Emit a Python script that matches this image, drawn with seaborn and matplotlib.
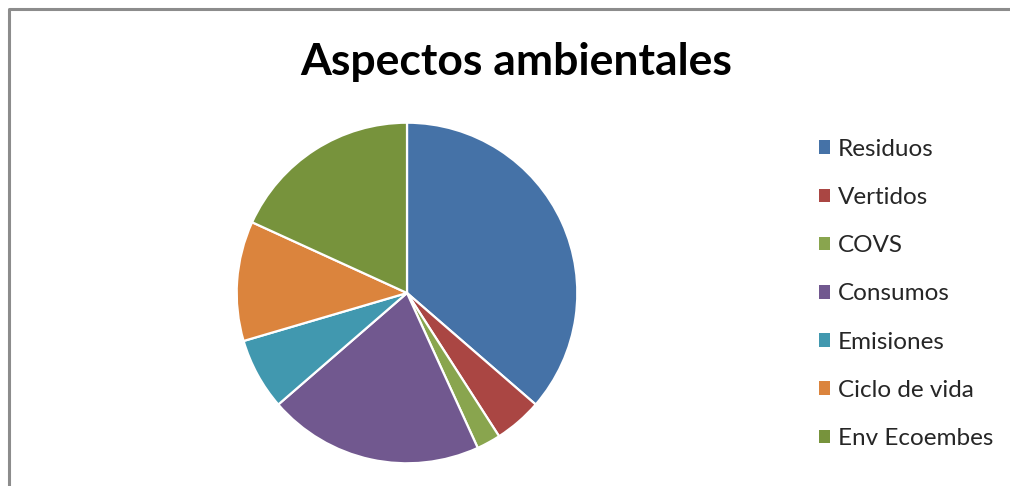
import matplotlib
matplotlib.use("Agg")
import matplotlib.pyplot as plt
import seaborn as sns

# Aspectos ambientales (counts)
labels = ["Residuos", "Vertidos", "COVS", "Consumos", "Emisiones", "Ciclo de vida", "Env Ecoembes"]
values = [16, 2, 1, 9, 3, 5, 8]
colors = ["#4572A7", "#AA4643", "#89A54E", "#71588F", "#4198AF", "#DB843D", "#77933C"]

sns.set_theme(style="white")
plt.rcParams["font.family"] = ["Lato", "DejaVu Sans"]
palette = sns.color_palette(colors)

W, H = 1010, 486
fig = plt.figure(figsize=(W / 100, H / 100), dpi=100)
fig.patch.set_facecolor("white")

# chart border (only left and top edge visible)
border = plt.Line2D([8.5 / W, 8.5 / W, 1.02], [-0.02, 1 - 9.5 / H, 1 - 9.5 / H],
                    transform=fig.transFigure, color="#8c8c8c", linewidth=2.2,
                    solid_capstyle="butt")
fig.add_artist(border)

cx, cy, r = 407, 293, 172
ax = fig.add_axes([(cx - r) / W, (H - cy - r) / H, 2 * r / W, 2 * r / H])
wedges, _ = ax.pie(values, colors=palette, startangle=90, counterclock=False,
                   radius=1, wedgeprops=dict(edgecolor="white", linewidth=1.6))
ax.set_xlim(-1.01, 1.01)
ax.set_ylim(-1.01, 1.01)
ax.axis("off")

fig.text(516 / W, 1 - 62 / H, "Aspectos ambientales", ha="center", va="center",
         fontsize=32, fontweight="bold", color="black")

leg = fig.legend(wedges, labels, loc="upper left", bbox_to_anchor=(809 / W, 1 - 129 / H),
                 frameon=False, fontsize=17.5, handlelength=0.48, handleheight=0.48,
                 handletextpad=0.3, labelspacing=1.12, borderaxespad=0)
for h in leg.legend_handles:
    h.set_edgecolor("none")

fig.savefig("out.png", dpi=100, facecolor="white")
